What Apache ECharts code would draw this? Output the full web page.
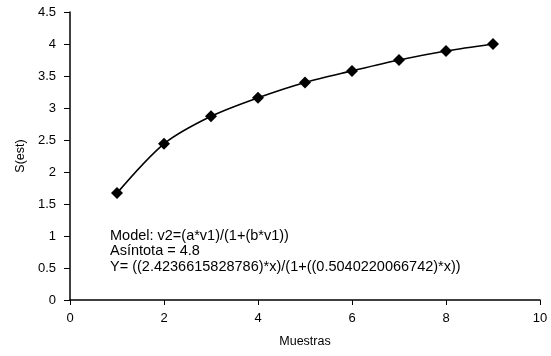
<!DOCTYPE html>
<html>
<head>
<meta charset="utf-8">
<script src="https://cdn.jsdelivr.net/npm/echarts@6/dist/echarts.min.js"></script>
<style>
    html, body { margin: 0; padding: 0; background: #fff; }
    #chart { width: 551px; height: 356px; }
</style>
</head>
<body>
<div id="chart"></div>
<script>
    // muestras y S(est)
    var muestras = [1, 2, 3, 4, 5, 6, 7, 8, 9];
    var sEst = [1.67, 2.44, 2.87, 3.16, 3.40, 3.58, 3.75, 3.89, 4.00];
    var notas = [
        'Model: v2=(a*v1)/(1+(b*v1))',
        'Asíntota = 4.8',
        'Y= ((2.4236615828786)*x)/(1+((0.5040220066742)*x))'
    ];

    var puntos = [];
    for (var i = 0; i < muestras.length; i++) {
        puntos.push([muestras[i], sEst[i]]);
    }

    var fuente = 'Liberation Sans, Arial, sans-serif';
    var myChart = echarts.init(document.getElementById('chart'));
    myChart.setOption({
        animation: false,
        grid: { left: 70, right: 11, top: 12, bottom: 56 },
        xAxis: {
            type: 'value',
            min: 0, max: 10, interval: 2,
            name: 'Muestras',
            nameLocation: 'middle',
            nameGap: 35,
            nameTextStyle: { fontFamily: fuente, fontSize: 12.5, color: '#000' },
            axisLine: { lineStyle: { color: '#000', width: 1.5 } },
            axisTick: { show: true, inside: false, length: 5, lineStyle: { color: '#000' } },
            axisLabel: { fontFamily: fuente, fontSize: 13, color: '#000', margin: 12 },
            splitLine: { show: false }
        },
        yAxis: {
            type: 'value',
            min: 0, max: 4.5, interval: 0.5,
            name: 'S(est)',
            nameLocation: 'middle',
            nameGap: 42,
            nameRotate: 90,
            nameTextStyle: { fontFamily: fuente, fontSize: 12.5, color: '#000' },
            axisLine: { show: true, lineStyle: { color: '#000', width: 1.5 } },
            axisTick: { show: true, inside: false, length: 6, lineStyle: { color: '#000' } },
            axisLabel: { fontFamily: fuente, fontSize: 13, color: '#000', margin: 14 },
            splitLine: { show: false }
        },
        graphic: [{
            type: 'text',
            left: 110,
            top: 228,
            style: {
                text: notas.join('\n'),
                font: '14.5px ' + fuente,
                fill: '#000',
                lineHeight: 15.5
            }
        }],
        series: [{
            type: 'line',
            data: puntos,
            smooth: 0.3,
            symbol: 'diamond',
            symbolSize: 12,
            itemStyle: { color: '#000' },
            lineStyle: { color: '#000', width: 1.6 }
        }]
    });
</script>
</body>
</html>
